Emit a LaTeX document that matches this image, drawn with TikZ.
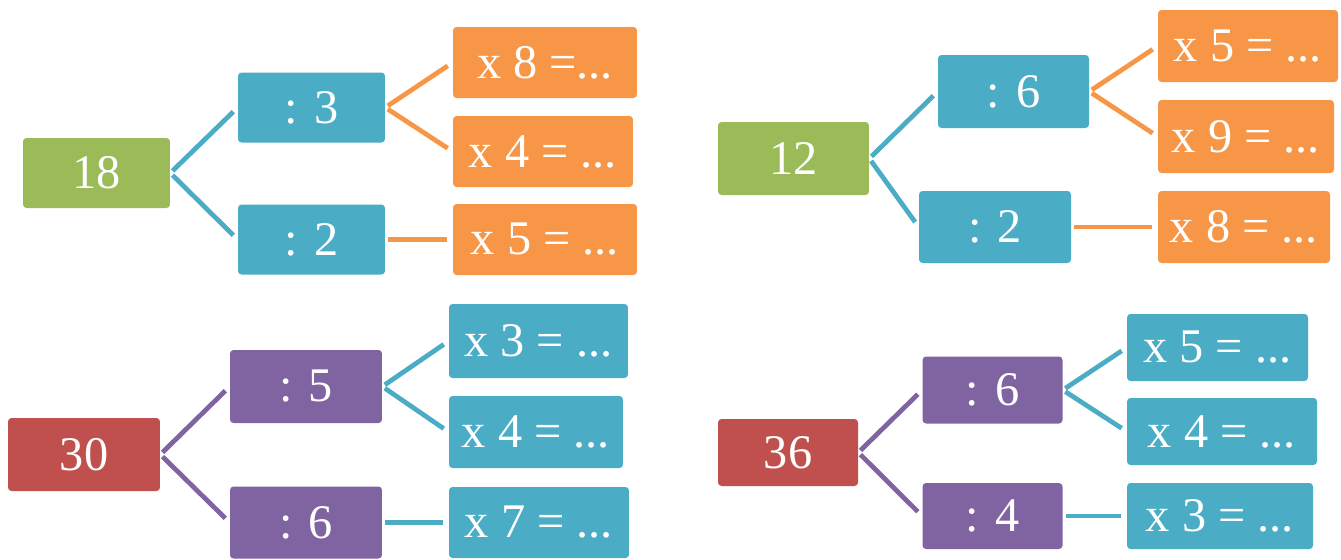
\documentclass[tikz,border=0pt]{standalone}
\usepackage{fontspec}
\setmainfont{Liberation Serif}
\definecolor{lgreen}{HTML}{9BBB59}
\definecolor{lblue}{HTML}{4BACC6}
\definecolor{lorange}{HTML}{F79646}
\definecolor{lred}{HTML}{C0504D}
\definecolor{lpurple}{HTML}{8064A2}
\begin{document}
\begin{tikzpicture}[x=0.02cm,y=-0.02cm,
    box/.style={rounded corners=2pt,text=white,inner sep=0pt,font=\fontsize{27.5}{32}\selectfont},
    link/.style={line width=2.7pt,shorten <=0.06cm,shorten >=0.12cm}]
  \useasboundingbox (0,0) rectangle (1341,559);
  \node[box,fill=lgreen,minimum width=2.94cm,minimum height=1.4cm] (n18) at (96.5,173) {18};
  \node[box,fill=lblue,minimum width=2.94cm,minimum height=1.4cm] (t3) at (311.5,107.5) {: 3};
  \node[box,fill=lblue,minimum width=2.94cm,minimum height=1.4cm] (t2) at (311.5,239.5) {: 2};
  \node[box,fill=lorange,minimum width=3.68cm,minimum height=1.42cm] (t8) at (545,62.5) {x 8 =...};
  \node[box,fill=lorange,minimum width=3.6cm,minimum height=1.42cm] (t4) at (543,151.5) {x 4 = ...};
  \node[box,fill=lorange,minimum width=3.68cm,minimum height=1.42cm] (t5) at (545,239.5) {x 5 = ...};
  \draw[link,lblue] (n18.east) -- (t3.west);
  \draw[link,lblue] (n18.east) -- (t2.west);
  \draw[link,lorange] (t3.east) -- (t8.west);
  \draw[link,lorange] (t3.east) -- (t4.west);
  \draw[link,lorange] (t2.east) -- (t5.west);

  \node[box,fill=lgreen,minimum width=3.02cm,minimum height=1.46cm] (n12) at (793.5,158.5) {12};
  \node[box,fill=lblue,minimum width=3.02cm,minimum height=1.46cm] (u6) at (1013.5,91.5) {: 6};
  \node[box,fill=lblue,minimum width=3.04cm,minimum height=1.44cm] (u2) at (995,227) {: 2};
  \node[box,fill=lorange,minimum width=3.6cm,minimum height=1.44cm] (u5) at (1248,46) {x 5 = ...};
  \node[box,fill=lorange,minimum width=3.52cm,minimum height=1.46cm] (u9) at (1246,136.5) {x 9 = ...};
  \node[box,fill=lorange,minimum width=3.44cm,minimum height=1.44cm] (u8) at (1244,227) {x 8 = ...};
  \draw[link,lblue] (n12.east) -- (u6.west);
  \draw[link,lblue] (n12.east) -- (u2.west);
  \draw[link,lorange] (u6.east) -- (u5.west);
  \draw[link,lorange] (u6.east) -- (u9.west);
  \draw[link,lorange] (u2.east) -- (u8.west);

  \node[box,fill=lred,minimum width=3.04cm,minimum height=1.46cm] (n30) at (84,454.5) {30};
  \node[box,fill=lpurple,minimum width=3.04cm,minimum height=1.46cm] (v5) at (306,386.5) {: 5};
  \node[box,fill=lpurple,minimum width=3.04cm,minimum height=1.44cm] (v6) at (306,522.5) {: 6};
  \node[box,fill=lblue,minimum width=3.58cm,minimum height=1.48cm] (v3) at (538.5,341) {x 3 = ...};
  \node[box,fill=lblue,minimum width=3.48cm,minimum height=1.44cm] (v4) at (536,432) {x 4 = ...};
  \node[box,fill=lblue,minimum width=3.6cm,minimum height=1.42cm] (v7) at (539,522.5) {x 7 = ...};
  \draw[link,lpurple] (n30.east) -- (v5.west);
  \draw[link,lpurple] (n30.east) -- (v6.west);
  \draw[link,lblue] (v5.east) -- (v3.west);
  \draw[link,lblue] (v5.east) -- (v4.west);
  \draw[link,lblue] (v6.east) -- (v7.west);

  \node[box,fill=lred,minimum width=2.8cm,minimum height=1.34cm] (n36) at (788,452.5) {36};
  \node[box,fill=lpurple,minimum width=2.8cm,minimum height=1.34cm] (w6) at (992.5,390) {: 6};
  \node[box,fill=lpurple,minimum width=2.8cm,minimum height=1.32cm] (w4) at (992.5,516) {: 4};
  \node[box,fill=lblue,minimum width=3.62cm,minimum height=1.34cm] (w5) at (1217.5,347.5) {x 5 = ...};
  \node[box,fill=lblue,minimum width=3.8cm,minimum height=1.34cm] (w4b) at (1222,431.5) {x 4 = ...};
  \node[box,fill=lblue,minimum width=3.72cm,minimum height=1.32cm] (w3) at (1220,516) {x 3 = ...};
  \draw[link,lpurple] (n36.east) -- (w6.west);
  \draw[link,lpurple] (n36.east) -- (w4.west);
  \draw[link,lblue] (w6.east) -- (w5.west);
  \draw[link,lblue] (w6.east) -- (w4b.west);
  \draw[link,lblue] (w4.east) -- (w3.west);
\end{tikzpicture}
\end{document}
